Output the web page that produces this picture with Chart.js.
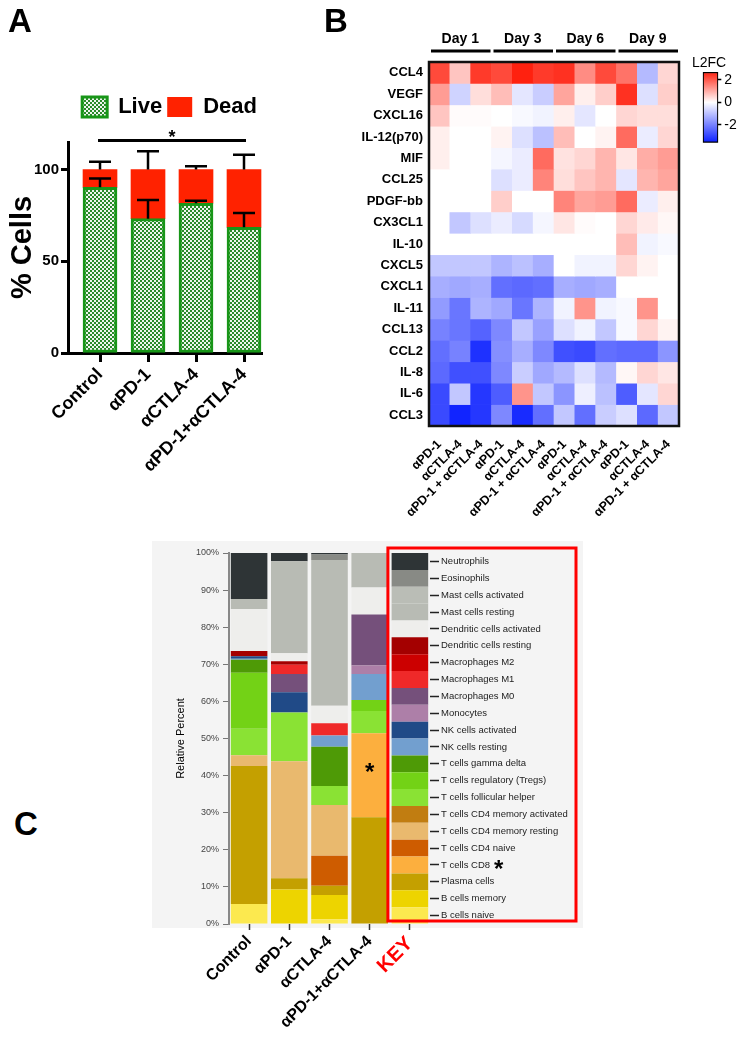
<!DOCTYPE html>
<html>
<head>
<meta charset="UTF-8" />
<title>Checkpoint blockade panels</title>
<script src="https://cdn.jsdelivr.net/npm/chart.js@4.4.1/dist/chart.umd.min.js"></script>
<style>
  body { margin: 0; background: #fff; }
  #page { position: relative; width: 750px; height: 1037px; overflow: hidden; font-family: Arial, "Liberation Sans", sans-serif; }
  #page canvas { position: absolute; }
  .panel { position: absolute; font-weight: bold; font-size: 33px; line-height: 33px; color: #000; }
  .note { position: absolute; font-size: 14px; line-height: 14px; color: #000; }
</style>
</head>
<body>
<div id="page">
  <canvas id="cellsChart" width="275" height="500" style="left:0;top:0"></canvas>
  <canvas id="heatChart" width="480" height="530" style="left:270px;top:0"></canvas>
  <canvas id="scaleChart" width="60" height="100" style="left:690px;top:55px"></canvas>
  <canvas id="cibersortChart" width="470" height="507" style="left:140px;top:530px"></canvas>
  <div class="panel" style="left:8px;top:4px">A</div>
  <div class="panel" style="left:324px;top:4px">B</div>
  <div class="panel" style="left:14px;top:807px">C</div>
  <div class="note" style="left:692px;top:55px">L2FC</div>
</div>
<script>
const FONT = "Arial, 'Liberation Sans', sans-serif";

// ---------- panel A: live / dead cells ----------
const groupsA = ["Control", "αPD-1", "αCTLA-4", "αPD-1+αCTLA-4"];
const liveMean = [90.3, 73.2, 81.6, 68.5];
const liveErr = [4.8, 10.2, 1.4, 7.8];
const deadMean = [9.7, 26.8, 18.4, 31.5];
const deadErr = [4.2, 10.0, 1.8, 8.0];
const yTicksA = [0, 50, 100];

// ---------- panel B: cytokine log2 fold change ----------
const days = ["Day 1", "Day 3", "Day 6", "Day 9"];
const treatments = [
  "αPD-1", "αCTLA-4", "αPD-1 + αCTLA-4",
  "αPD-1", "αCTLA-4", "αPD-1 + αCTLA-4",
  "αPD-1", "αCTLA-4", "αPD-1 + αCTLA-4",
  "αPD-1", "αCTLA-4", "αPD-1 + αCTLA-4",
];
const analytes = ["CCL4", "VEGF", "CXCL16", "IL-12(p70)", "MIF", "CCL25", "PDGF-bb", "CX3CL1", "IL-10",
  "CXCL5", "CXCL1", "IL-11", "CCL13", "CCL2", "IL-8", "IL-6", "CCL3"];
const rowCCL4 = [2.2, 0.7, 2.4, 2.2, 2.7, 2.4, 2.5, 1.4, 2.2, 1.7, -1.1, 0.5];
const rowVEGF = [1.2, -0.7, 0.4, 0.8, -0.4, -0.8, 1.1, 0.2, 0.6, 2.5, -0.5, 0.6];
const rowCXCL16 = [0.7, 0.05, 0.05, 0, -0.1, -0.2, 0.2, -0.4, 0, 0.5, 0.4, 0.4];
const rowIL12 = [0.2, 0, 0, 0.15, -0.5, -1.0, 0.8, 0, 0.15, 1.8, -0.3, 0.5];
const rowMIF = [0.2, 0, 0, -0.15, -0.3, 1.8, 0.35, 0.5, 0.9, 0.3, 1.0, 1.2];
const rowCCL25 = [0, 0, 0, -0.5, -0.3, 1.5, 0.4, 0.7, 0.9, -0.4, 0.9, 1.1];
const rowPDGF = [0, 0, 0, 0.6, 0, 0, 1.5, 1.1, 1.2, 1.8, -0.3, 0.2];
const rowCX3CL1 = [0, -0.9, -0.5, -0.3, -0.6, -0.15, 0.3, 0.05, 0, 0.5, 0.25, 0.1];
const rowIL10 = [0, 0, 0, 0, 0, 0, 0, 0, 0, 0.8, -0.2, -0.1];
const rowCXCL5 = [-0.9, -0.9, -0.9, -1.2, -1.0, -1.3, 0, -0.2, -0.2, 0.5, 0.15, 0];
const rowCXCL1 = [-1.3, -1.4, -1.3, -2.3, -2.4, -2.3, -1.3, -1.4, -1.3, 0, 0, 0];
const rowIL11 = [-1.6, -2.2, -1.2, -1.4, -2.2, -1.2, -0.2, 1.3, -0.2, -0.1, 1.3, 0];
const rowCCL13 = [-2.0, -2.2, -2.5, -1.9, -0.9, -1.5, -0.5, -0.2, -0.9, -0.1, 0.5, 0.15];
const rowCCL2 = [-2.3, -2.0, -3.3, -1.8, -1.3, -1.9, -2.8, -2.9, -2.3, -2.4, -2.4, -1.7];
const rowIL8 = [-2.4, -2.8, -2.8, -1.9, -0.8, -1.4, -1.1, -0.5, -1.1, 0.1, 0.5, 0.3];
const rowIL6 = [-2.9, -0.9, -3.2, -2.6, 1.3, -0.9, -1.7, -0.25, -1.0, -2.6, -0.4, 0.5];
const rowCCL3 = [-2.9, -3.5, -3.2, -1.9, -3.4, -2.3, -0.9, -2.3, -0.8, -0.5, -2.4, -0.9];
const l2fc = [rowCCL4, rowVEGF, rowCXCL16, rowIL12, rowMIF, rowCCL25, rowPDGF, rowCX3CL1, rowIL10,
  rowCXCL5, rowCXCL1, rowIL11, rowCCL13, rowCCL2, rowIL8, rowIL6, rowCCL3];
const colorRange = [-3.6, 2.7];
const colorTicks = [-2, 0, 2];

// ---------- panel C: immune cell fractions ----------
const groupsC = ["Control", "αPD-1", "αCTLA-4", "αPD-1+αCTLA-4", "KEY"];
const cellTypes = ["Neutrophils", "Eosinophils", "Mast cells activated", "Mast cells resting",
  "Dendritic cells activated", "Dendritic cells resting", "Macrophages M2", "Macrophages M1",
  "Macrophages M0", "Monocytes", "NK cells activated", "NK cells resting", "T cells gamma delta",
  "T cells regulatory (Tregs)", "T cells follicular helper", "T cells CD4 memory activated",
  "T cells CD4 memory resting", "T cells CD4 naive", "T cells CD8", "Plasma cells",
  "B cells memory", "B cells naive"];
const cellColors = ["#2e3436", "#888a85", "#babdb6", "#b8bbb4", "#eeeeec", "#a40000", "#cc0000", "#ef2929",
  "#75507b", "#ad7fa8", "#204a87", "#729fcf", "#4e9a06", "#73d216", "#8ae234", "#c17d11",
  "#e9b96e", "#ce5c00", "#fcaf3e", "#c4a000", "#edd400", "#fce94f"];
const controlPct = [12.4, 0, 0, 2.7, 11.3, 1.4, 0, 0, 0, 0, 0.7, 0.3, 3.5, 15.1, 7.1, 0, 2.9, 0, 0, 37.2, 0, 5.4];
const pd1Pct = [2.2, 0, 0, 24.8, 2.2, 0.9, 0, 2.5, 4.9, 0, 5.5, 0, 0, 0, 13.1, 0, 31.6, 0, 0, 3.0, 9.3, 0];
const ctla4Pct = [0.4, 1.5, 0, 39.3, 4.7, 0, 0, 3.3, 0, 0, 0, 3.0, 10.6, 0, 5.1, 0, 13.7, 8.1, 0, 2.5, 6.5, 1.3];
const comboPct = [0, 0, 0, 9.3, 7.3, 0, 0, 0, 13.7, 2.3, 0, 7.0, 0, 3.0, 6.0, 0, 0, 0, 22.6, 28.8, 0, 0];
const keyPct = [4.545, 4.545, 4.545, 4.545, 4.545, 4.545, 4.545, 4.545, 4.545, 4.545, 4.545,
  4.545, 4.545, 4.545, 4.545, 4.545, 4.545, 4.545, 4.545, 4.545, 4.545, 4.545];

Chart.defaults.font.family = FONT;
Chart.defaults.color = "#000";
Chart.defaults.animation = false;
Chart.defaults.plugins.tooltip.enabled = false;

function checker() {
  const tile = document.createElement("canvas");
  tile.width = 4;
  tile.height = 4;
  const g = tile.getContext("2d");
  g.fillStyle = "#eef6ee";
  g.fillRect(0, 0, 4, 4);
  g.fillStyle = "#2a8a2a";
  g.fillRect(0, 0, 2, 2);
  g.fillRect(2, 2, 2, 2);
  return g.createPattern(tile, "repeat");
}

function heatColor(v) {
  if (v >= 0) {
    const t = Math.min(v / colorRange[1], 1);
    return `rgb(255, ${Math.round(255 - t * 222)}, ${Math.round(255 - t * 240)})`;
  }
  const t = Math.min(v / colorRange[0], 1);
  return `rgb(${Math.round(255 - t * 245)}, ${Math.round(255 - t * 225)}, 255)`;
}

// legend box is given a fixed height so the plot starts where the original does
const legendSpace = {
  id: "legendSpace",
  afterInit(chart) {
    const fit = chart.legend.fit;
    chart.legend.fit = function () {
      fit.call(this);
      this.height = 51;
    };
  },
};

const errorBars = {
  id: "errorBars",
  afterDatasetsDraw(chart) {
    const { ctx } = chart;
    const y = chart.scales.y;
    ctx.save();
    ctx.strokeStyle = "#000";
    ctx.lineWidth = 2.5;
    chart.data.datasets.forEach((ds, di) => {
      chart.getDatasetMeta(di).data.forEach((bar, i) => {
        const topValue = y.getValueForPixel(bar.y);
        const yErr = y.getPixelForValue(topValue + ds.errors[i]);
        ctx.beginPath();
        ctx.moveTo(bar.x, bar.y);
        ctx.lineTo(bar.x, yErr);
        ctx.moveTo(bar.x - 11, yErr);
        ctx.lineTo(bar.x + 11, yErr);
        ctx.stroke();
      });
    });
    ctx.restore();
  },
};

const sigBar = {
  id: "sigBar",
  afterDraw(chart) {
    const { ctx, chartArea } = chart;
    const x = chart.scales.x;
    const yLine = chartArea.top - 1.5;
    const x0 = x.getPixelForValue(0) - 2;
    const x1 = x.getPixelForValue(groupsA.length - 1) + 2;
    ctx.save();
    ctx.strokeStyle = "#000";
    ctx.lineWidth = 3;
    ctx.beginPath();
    ctx.moveTo(x0, yLine);
    ctx.lineTo(x1, yLine);
    ctx.stroke();
    ctx.fillStyle = "#000";
    ctx.font = `bold 18px ${FONT}`;
    ctx.textAlign = "center";
    ctx.fillText("*", (x0 + x1) / 2, yLine - 2);
    ctx.restore();
  },
};

new Chart(document.getElementById("cellsChart"), {
  type: "bar",
  data: {
    datasets: [
      {
        label: "Live",
        data: groupsA.map((g, i) => ({ x: i, y: liveMean[i] })),
        errors: liveErr,
        backgroundColor: checker(),
        borderColor: "#189618",
        borderWidth: 3,
        borderSkipped: false,
        barThickness: 34,
      },
      {
        label: "Dead",
        data: groupsA.map((g, i) => ({ x: i, y: deadMean[i] })),
        errors: deadErr,
        backgroundColor: "#ff2200",
        borderColor: "#ff2200",
        borderWidth: 0,
        barThickness: 34,
      },
    ],
  },
  options: {
    responsive: false,
    layout: { padding: { left: 0, right: 13, top: 91, bottom: 0 } },
    scales: {
      x: {
        type: "linear",
        stacked: true,
        offset: false,
        min: -0.667,
        max: 3.375,
        afterBuildTicks: (s) => { s.ticks = groupsA.map((g, i) => ({ value: i })); },
        afterFit: (s) => { s.height = 147; },
        ticks: {
          callback: (v) => groupsA[v],
          autoSkip: false,
          minRotation: 45,
          maxRotation: 45,
          padding: 2,
          font: { size: 18, weight: "bold" },
          color: "#000",
        },
        grid: { offset: false, drawOnChartArea: false, tickLength: 9, tickWidth: 3, color: "#000" },
        border: { color: "#000", width: 3 },
      },
      y: {
        stacked: true,
        min: 0,
        max: 115,
        afterBuildTicks: (s) => { s.ticks = yTicksA.map((v) => ({ value: v })); },
        afterFit: (s) => { s.width = 68; },
        ticks: { padding: 2, font: { size: 15, weight: "bold" }, color: "#000" },
        grid: { drawOnChartArea: false, tickLength: 7, tickWidth: 3, color: "#000" },
        border: { color: "#000", width: 3 },
        title: { display: true, text: "% Cells", padding: 6, font: { size: 29, weight: "bold" }, color: "#000" },
      },
    },
    plugins: {
      legend: {
        align: "end",
        labels: { boxWidth: 25, boxHeight: 20, padding: 5, font: { size: 22, weight: "bold" }, color: "#000" },
      },
    },
  },
  plugins: [legendSpace, errorBars, sigBar],
});

// ---------- heatmap ----------
const heatFrame = {
  id: "heatFrame",
  afterDraw(chart) {
    const { ctx, chartArea } = chart;
    const dayAxis = chart.scales.xDay;
    ctx.save();
    ctx.strokeStyle = "#111";
    ctx.lineWidth = 2.5;
    ctx.strokeRect(chartArea.left, chartArea.top, chartArea.right - chartArea.left, chartArea.bottom - chartArea.top);
    ctx.lineWidth = 3;
    ctx.strokeStyle = "#000";
    const half = (chartArea.right - chartArea.left) / days.length / 2;
    days.forEach((d, i) => {
      const cx = dayAxis.getPixelForTick(i);
      ctx.beginPath();
      ctx.moveTo(cx - half + 2, chartArea.top - 11);
      ctx.lineTo(cx + half - 1, chartArea.top - 11);
      ctx.stroke();
    });
    ctx.restore();
  },
};

new Chart(document.getElementById("heatChart"), {
  type: "bar",
  data: {
    labels: treatments,
    datasets: analytes.map((name, r) => ({
      label: name,
      data: treatments.map(() => 1),
      backgroundColor: l2fc[r].map(heatColor),
      borderWidth: 0,
      barPercentage: 1,
      categoryPercentage: 1,
    })),
  },
  options: {
    responsive: false,
    layout: { padding: { left: 0, right: 71, top: 26, bottom: 0 } },
    plugins: { legend: { display: false } },
    scales: {
      x: {
        stacked: true,
        afterFit: (s) => { s.height = 104; },
        ticks: { autoSkip: false, minRotation: 45, maxRotation: 45, padding: 3, font: { size: 12.5, weight: "bold" }, color: "#000" },
        grid: { display: false },
        border: { display: false },
      },
      xDay: {
        type: "category",
        labels: days,
        position: "top",
        offset: true,
        afterFit: (s) => { s.height = 36; },
        ticks: { padding: 14, font: { size: 14, weight: "bold" }, color: "#000" },
        grid: { display: false, drawTicks: false },
        border: { display: false },
      },
      y: {
        stacked: true,
        reverse: true,
        min: 0,
        max: analytes.length,
        afterBuildTicks: (s) => { s.ticks = analytes.map((a, i) => ({ value: i + 0.5 })); },
        afterFit: (s) => { s.width = 159; },
        ticks: { autoSkip: false, padding: 6, callback: (v, i) => analytes[i], font: { size: 13, weight: "bold" }, color: "#000" },
        grid: { display: false, drawTicks: false },
        border: { display: false },
      },
    },
  },
  plugins: [heatFrame],
});

// ---------- colour scale ----------
new Chart(document.getElementById("scaleChart"), {
  type: "bar",
  data: {
    labels: ["L2FC"],
    datasets: [{
      data: [colorRange],
      backgroundColor(c) {
        const { chart } = c;
        const y = chart.scales.y;
        if (!chart.chartArea || !y) return "#fff";
        const g = chart.ctx.createLinearGradient(0, y.getPixelForValue(colorRange[0]), 0, y.getPixelForValue(colorRange[1]));
        g.addColorStop(0, heatColor(colorRange[0]));
        g.addColorStop(-colorRange[0] / (colorRange[1] - colorRange[0]), heatColor(0));
        g.addColorStop(1, heatColor(colorRange[1]));
        return g;
      },
      borderColor: "#000",
      borderWidth: 1.5,
      borderSkipped: false,
      barPercentage: 1,
      categoryPercentage: 1,
    }],
  },
  options: {
    responsive: false,
    layout: { padding: { left: 12.7, right: 0, top: 17, bottom: 12.3 } },
    plugins: { legend: { display: false } },
    scales: {
      x: { display: false },
      y: {
        position: "right",
        min: colorRange[0],
        max: colorRange[1],
        afterBuildTicks: (s) => { s.ticks = colorTicks.map((v) => ({ value: v })); },
        afterFit: (s) => { s.width = 31.7; },
        ticks: { padding: 3, font: { size: 14 }, color: "#000" },
        grid: { drawOnChartArea: false, tickLength: 3, color: "#000", tickWidth: 1.5 },
        border: { display: false },
      },
    },
  },
});

// ---------- stacked cell fractions ----------
const cFrame = {
  id: "cFrame",
  beforeDraw(chart) {
    const { ctx, chartArea } = chart;
    ctx.save();
    ctx.fillStyle = "#f4f4f4";
    ctx.fillRect(chartArea.left - 77, chartArea.top - 12, chartArea.right - chartArea.left + 230, chartArea.bottom - chartArea.top + 16);
    ctx.restore();
  },
  afterDraw(chart) {
    const { ctx, chartArea } = chart;
    const x = chart.scales.x;
    const y = chart.scales.y;
    const key = chart.scales.yKey;
    ctx.save();
    // red outline around the key column
    ctx.strokeStyle = "#ff0000";
    ctx.lineWidth = 3;
    const left = x.getPixelForValue(groupsC.length - 1) - 22;
    const top = y.getPixelForValue(100) - 5;
    ctx.strokeRect(left, top, chartArea.right + 146 - left, y.getPixelForValue(0) - 3 - top);
    // asterisks on CD8
    const cd8 = cellTypes.indexOf("T cells CD8");
    const dsIndex = cellTypes.length - 1 - cd8;
    const bar = chart.getDatasetMeta(dsIndex).data[3];
    ctx.fillStyle = "#000";
    ctx.font = `bold 24px ${FONT}`;
    ctx.textAlign = "center";
    ctx.textBaseline = "middle";
    ctx.fillText("*", bar.x, (bar.y + bar.base) / 2 - 2);
    const tick = key.ticks.find((t) => t.name === "T cells CD8");
    ctx.font = `9.5px ${FONT}`;
    const w = ctx.measureText("T cells CD8").width;
    ctx.font = `bold 24px ${FONT}`;
    ctx.textAlign = "left";
    ctx.fillText("*", key.left + 11 + w + 4, key.getPixelForValue(tick.value) + 5);
    ctx.restore();
  },
};

let keyTop = 100;
const keyTicks = cellTypes.map((name, k) => {
  const center = keyTop - keyPct[k] / 2;
  keyTop -= keyPct[k];
  return { value: center, name };
}).reverse();

new Chart(document.getElementById("cibersortChart"), {
  type: "bar",
  data: {
    labels: groupsC,
    datasets: cellTypes.map((name, k) => ({
      label: name,
      data: [controlPct[k], pd1Pct[k], ctla4Pct[k], comboPct[k], keyPct[k]],
      backgroundColor: cellColors[k],
      borderWidth: 0,
      barPercentage: 0.91,
      categoryPercentage: 1,
    })).reverse(),
  },
  options: {
    responsive: false,
    layout: { padding: { left: 30, right: 0, top: 23, bottom: 0 } },
    plugins: { legend: { display: false } },
    scales: {
      x: {
        stacked: true,
        afterFit: (s) => { s.height = 113; },
        ticks: {
          autoSkip: false,
          minRotation: 45,
          maxRotation: 45,
          padding: 2,
          font: (c) => ({ size: c.index === 4 ? 20 : 16, weight: "bold" }),
          color: (c) => (c.index === 4 ? "#ff0000" : "#000"),
        },
        grid: { offset: false, drawOnChartArea: false, tickLength: 6, color: "#333", tickWidth: 1.5 },
        border: { display: false },
      },
      y: {
        stacked: true,
        min: 0,
        max: 100,
        afterFit: (s) => { s.width = 59; },
        ticks: { stepSize: 10, padding: 4, callback: (v) => v + "%", font: { size: 9 }, color: "#444" },
        grid: { drawOnChartArea: false, tickLength: 6, color: "#777" },
        border: { color: "#888", width: 2 },
        title: { display: true, text: "Relative Percent", font: { size: 11 }, color: "#000", padding: 4 },
      },
      yKey: {
        position: "right",
        min: 0,
        max: 100,
        afterBuildTicks: (s) => { s.ticks = keyTicks.map((t) => ({ value: t.value, name: t.name })); },
        afterFit: (s) => { s.width = 180; },
        ticks: { autoSkip: false, padding: 2, callback: (v, i, ticks) => ticks[i].name, font: { size: 9.5 }, color: "#222" },
        grid: { drawOnChartArea: false, tickLength: 9, color: "#222", tickWidth: 1.5 },
        border: { display: false },
      },
    },
  },
  plugins: [cFrame],
});
</script>
</body>
</html>
